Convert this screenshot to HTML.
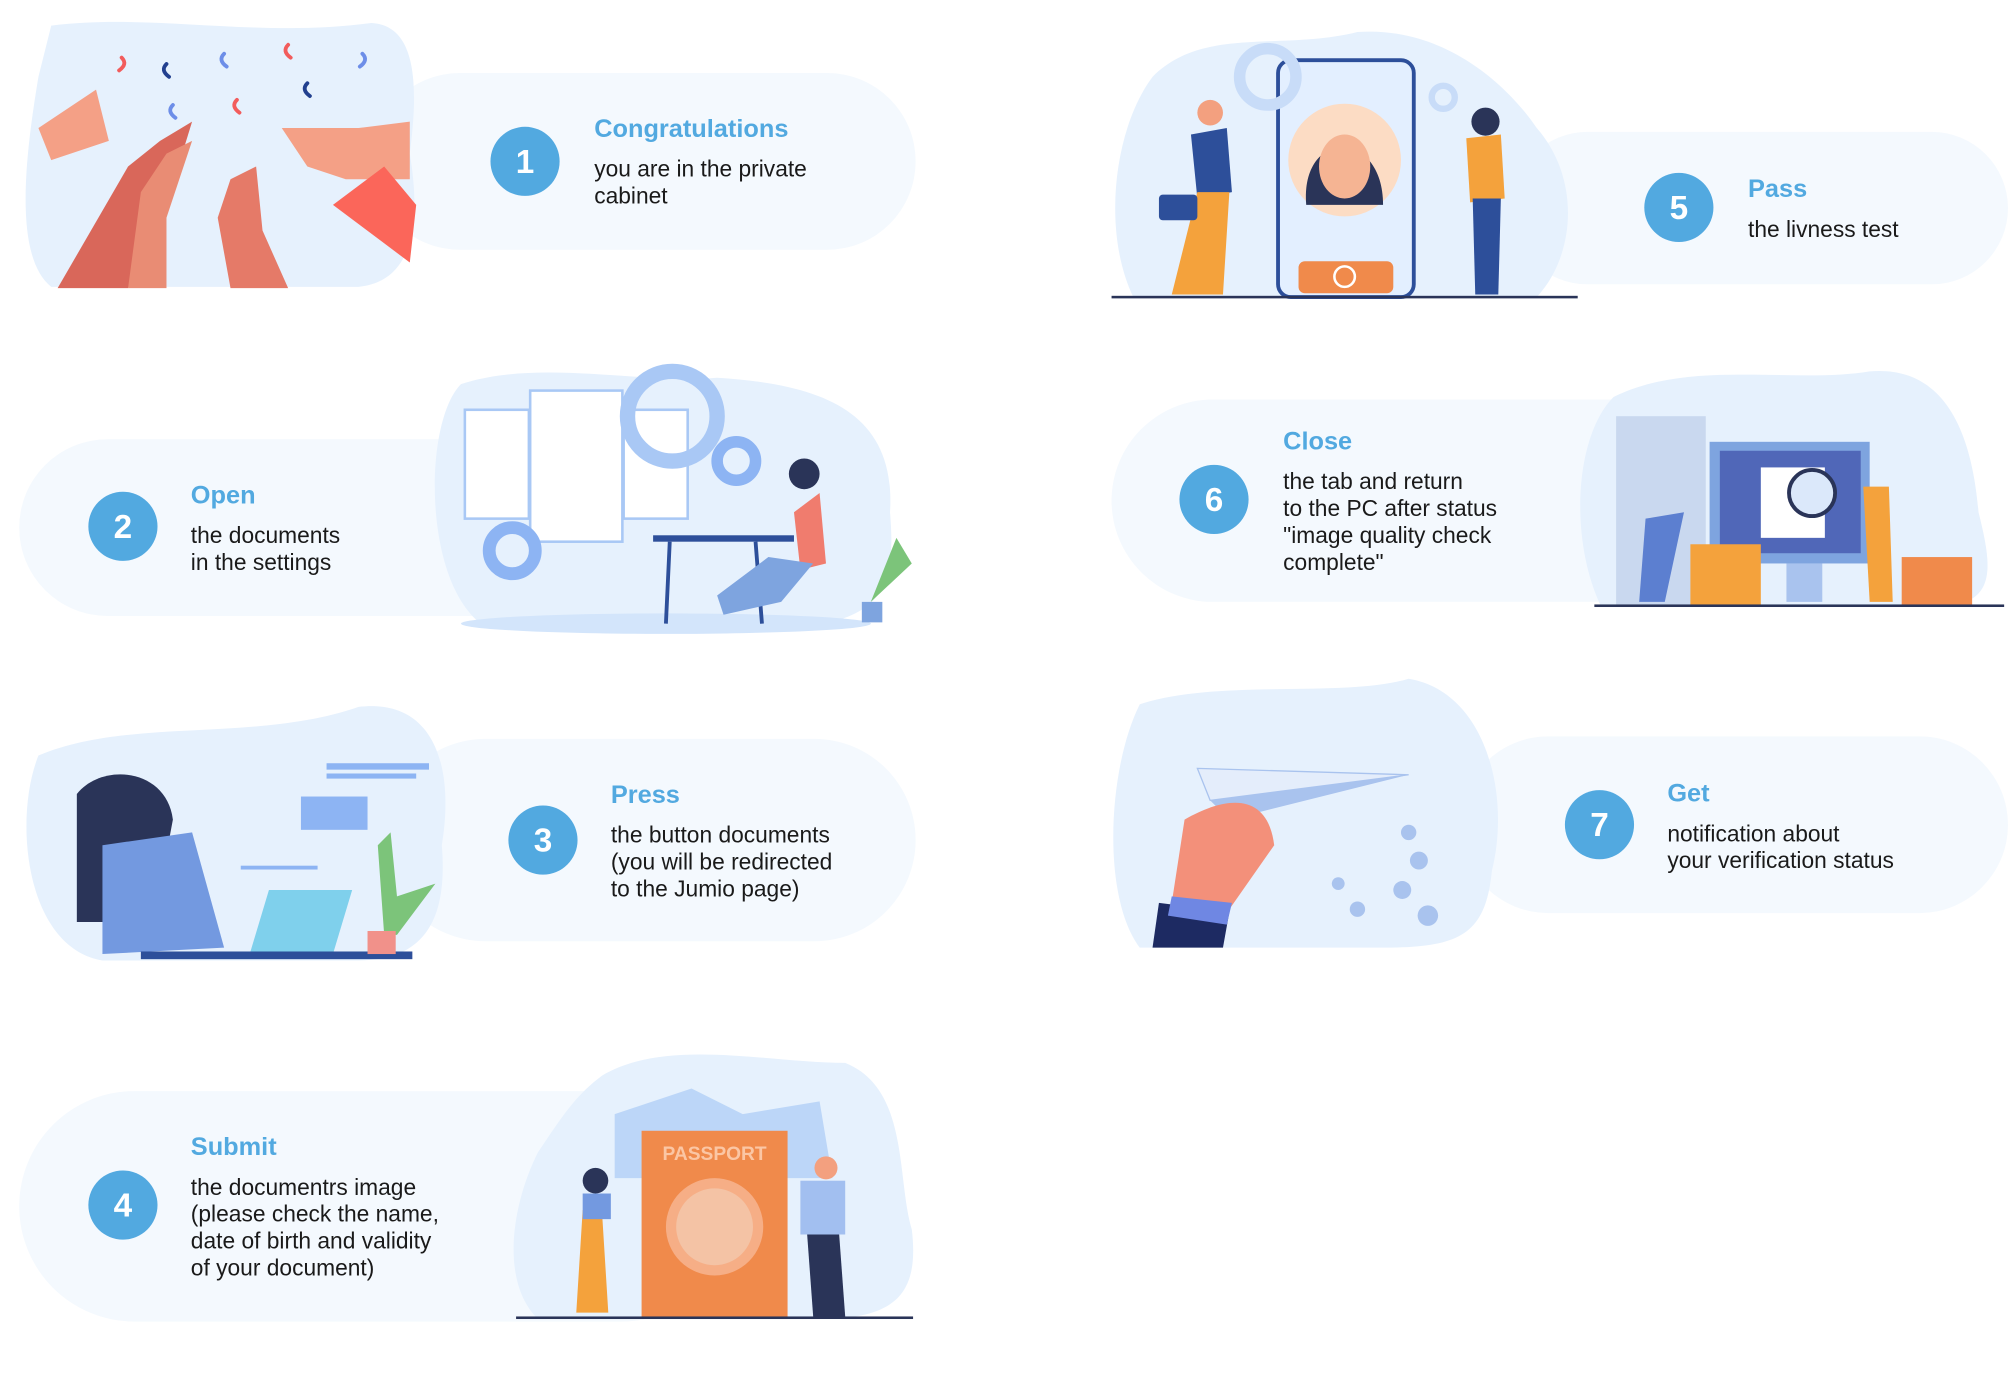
<!DOCTYPE html>
<html><head><meta charset="utf-8"><style>
html,body{margin:0;padding:0;background:#fff;width:2008px;height:1384px;overflow:hidden}
#w{position:absolute;left:0;top:0;width:1568px;height:1081px;transform:scale(1.2806);transform-origin:0 0;font-family:"Liberation Sans",sans-serif}
.p{position:absolute;background:#f4f9fe;border-radius:70px}
.c{position:absolute;width:54px;height:54px;border-radius:50%;background:#52a9e0;color:#fff;font-weight:bold;font-size:26px;line-height:54px;text-align:center}
.t{position:absolute;color:#52a9e0;font-weight:bold;font-size:19.8px}
.d{position:absolute;color:#1a1a1a;font-size:17.8px;line-height:21px}
svg{position:absolute;left:0;top:0}
</style></head><body><div id="w">
<div class="p" style="left:290px;top:57px;width:425px;height:138px"></div>
<div class="p" style="left:15px;top:343px;width:500px;height:138px"></div>
<div class="p" style="left:300px;top:577px;width:415px;height:158px;border-radius:80px"></div>
<div class="p" style="left:15px;top:852px;width:560px;height:180px;border-radius:90px"></div>
<div class="p" style="left:1180px;top:103px;width:388px;height:119px;border-radius:60px"></div>
<div class="p" style="left:868px;top:312px;width:480px;height:158px;border-radius:80px"></div>
<div class="p" style="left:1140px;top:575px;width:428px;height:138px"></div>
<svg width="1568" height="1081" viewBox="0 0 1568 1081">
<path d="M40,20 C120,10 200,30 290,18 C330,20 325,80 320,120 C330,180 320,220 280,224 L40,224 C10,200 20,120 30,60 Z" fill="#e6f1fd"/>
<path d="M360,300 C420,280 500,300 560,295 C640,300 700,320 695,400 C700,460 690,490 600,490 L380,490 C330,460 330,330 360,300 Z" fill="#e6f1fd"/>
<ellipse cx="520" cy="487" rx="160" ry="8" fill="#d3e5fb"/>
<path d="M30,590 C100,560 200,580 280,552 C340,545 355,600 345,660 C350,720 330,750 280,750 L80,750 C20,740 10,640 30,590 Z" fill="#e6f1fd"/>
<path d="M470,840 C520,810 600,830 660,830 C710,850 700,920 712,960 C718,1010 700,1030 640,1030 L420,1030 C390,1000 400,940 420,900 C440,870 450,855 470,840 Z" fill="#e6f1fd"/>
<path d="M900,60 C940,20 1000,40 1060,25 C1130,20 1180,70 1200,100 C1235,140 1230,200 1200,232 L885,232 C860,180 870,100 900,60 Z" fill="#e6f1fd"/>
<path d="M1260,310 C1320,280 1400,300 1460,290 C1520,285 1540,340 1545,400 C1555,440 1560,470 1520,473 L1250,473 C1225,420 1230,340 1260,310 Z" fill="#e6f1fd"/>
<path d="M890,550 C950,530 1050,545 1100,530 C1160,540 1180,620 1165,680 C1160,730 1140,740 1080,740 L890,740 C860,700 865,600 890,550 Z" fill="#e6f1fd"/>
<path d="M30,100 L75,70 L85,110 L40,125 Z" fill="#f4a086"/>
<path d="M45,225 L100,130 L125,110 L150,95 L130,160 L100,225 Z" fill="#d9675a"/>
<path d="M100,225 L110,150 L130,120 L150,110 L130,170 L130,225 Z" fill="#e98c74"/>
<path d="M180,225 L170,170 L180,140 L200,130 L205,180 L225,225 Z" fill="#e57a68"/>
<path d="M220,100 L280,100 L320,95 L320,140 L270,140 L240,130 Z" fill="#f4a086"/>
<path d="M260,160 L300,130 L325,160 L320,205 Z" fill="#fb665a"/>
<g fill="none" stroke-width="3" stroke-linecap="round"><path d="M95,45 q5,5 -2,10" stroke="#f25c5c"/><path d="M130,50 q-5,5 2,10" stroke="#22408f"/><path d="M175,42 q-5,5 2,10" stroke="#6d8ee8"/><path d="M225,35 q-5,5 2,10" stroke="#f25c5c"/><path d="M240,65 q-5,5 2,10" stroke="#22408f"/><path d="M283,42 q5,5 -2,10" stroke="#6d8ee8"/><path d="M185,78 q-5,5 2,10" stroke="#f25c5c"/><path d="M135,82 q-5,5 2,10" stroke="#6d8ee8"/></g>
<g fill="#fff" stroke="#a9c8f5" stroke-width="2"><rect x="363" y="320" width="50" height="85"/><rect x="414" y="305" width="72" height="118"/><rect x="487" y="320" width="50" height="85"/></g>
<circle cx="525" cy="325" r="35" fill="none" stroke="#a9c8f5" stroke-width="12"/>
<circle cx="575" cy="360" r="15" fill="none" stroke="#8db4f3" stroke-width="9"/>
<circle cx="400" cy="430" r="18" fill="none" stroke="#8db4f3" stroke-width="10"/>
<rect x="510" y="418" width="110" height="5" fill="#2d4f9a"/><path d="M523,423 L520,487 M590,423 L595,487" stroke="#2d4f9a" stroke-width="3"/>
<path d="M620,400 L640,385 L645,440 L625,445 Z" fill="#f07c6e"/><circle cx="628" cy="370" r="12" fill="#2a3458"/>
<path d="M560,465 L600,435 L635,440 L610,470 L565,480 Z" fill="#7ea4df"/>
<path d="M680,470 L700,420 L712,440 Z" fill="#7cc47a"/><rect x="673" y="470" width="16" height="16" fill="#7ea4df"/>
<path d="M60,620 C80,595 130,600 135,640 L120,720 L60,720 Z" fill="#2a3458"/>
<path d="M80,660 L150,650 L175,740 L80,745 Z" fill="#7399e0"/>
<path d="M210,695 L275,695 L260,745 L195,745 Z" fill="#7fd0ec"/><rect x="110" y="743" width="212" height="6" fill="#2d4f9a"/>
<path d="M300,730 L295,660 L305,650 L310,700 L340,690 L310,730 Z" fill="#7cc47a"/><rect x="287" y="727" width="22" height="18" fill="#f1918a"/>
<rect x="255" y="596" width="80" height="5" fill="#8db4f3"/><rect x="255" y="604" width="70" height="4" fill="#8db4f3"/><rect x="235" y="622" width="52" height="26" fill="#8db4f3"/><rect x="188" y="676" width="60" height="3" fill="#8db4f3"/>
<path d="M480,870 L540,850 L580,870 L640,860 L650,920 L480,920 Z" fill="#bcd6f8"/>
<rect x="501" y="883" width="114" height="147" fill="#f08a4b"/>
<text x="558" y="906" text-anchor="middle" font-size="15" font-weight="bold" fill="#fbc6a4" font-family="Liberation Sans,sans-serif">PASSPORT</text>
<circle cx="558" cy="958" r="38" fill="#f6ae86"/><circle cx="558" cy="958" r="30" fill="#f4c3a5"/>
<path d="M455,945 L470,945 L475,1025 L450,1025 Z" fill="#f4a23c"/><circle cx="465" cy="922" r="10" fill="#2a3458"/><rect x="455" y="932" width="22" height="20" fill="#7399e0"/>
<path d="M630,960 L655,960 L660,1028 L635,1028 Z" fill="#2a3458"/><rect x="625" y="922" width="35" height="42" fill="#a2bff0"/><circle cx="645" cy="912" r="9" fill="#f3a07f"/>
<rect x="403" y="1028" width="310" height="2" fill="#2a3458"/>
<rect x="998" y="47" width="106" height="185" rx="10" fill="#e3efff" stroke="#2d4f9a" stroke-width="3"/>
<circle cx="1050" cy="125" r="44" fill="#fcdcc4"/><path d="M1020,160 C1015,100 1080,100 1080,160 Z" fill="#2a3458"/><ellipse cx="1050" cy="130" rx="20" ry="25" fill="#f5b493"/>
<rect x="1014" y="204" width="74" height="25" rx="5" fill="#f08a4b"/><circle cx="1050" cy="216" r="8" fill="none" stroke="#fff" stroke-width="2"/>
<circle cx="990" cy="60" r="22" fill="none" stroke="#c8dcf8" stroke-width="9"/><circle cx="1127" cy="76" r="9" fill="none" stroke="#c8dcf8" stroke-width="5"/>
<path d="M930,105 L958,100 L962,150 L935,155 Z" fill="#2d4f9a"/><circle cx="945" cy="88" r="10" fill="#f3a07f"/><path d="M935,150 L960,150 L955,230 L915,230 Z" fill="#f4a23c"/><rect x="905" y="152" width="30" height="20" rx="3" fill="#2d4f9a"/>
<path d="M1145,108 L1172,105 L1175,155 L1148,158 Z" fill="#f4a23c"/><circle cx="1160" cy="95" r="11" fill="#2a3458"/><path d="M1150,155 L1172,155 L1170,230 L1152,230 Z" fill="#2d4f9a"/>
<rect x="868" y="231" width="364" height="2" fill="#2a3458"/>
<rect x="1262" y="325" width="70" height="148" fill="#c9d8ef"/>
<rect x="1335" y="345" width="125" height="95" fill="#7ea4df"/><rect x="1343" y="352" width="110" height="80" fill="#5067b8"/>
<rect x="1395" y="440" width="28" height="30" fill="#a9c3ee"/>
<rect x="1375" y="365" width="50" height="55" fill="#fff"/><circle cx="1415" cy="385" r="18" fill="#dbe8fa" stroke="#2a3458" stroke-width="3"/>
<rect x="1320" y="425" width="55" height="48" fill="#f4a23c"/><rect x="1485" y="435" width="55" height="38" fill="#f08a4b"/>
<path d="M1455,380 L1475,380 L1478,470 L1460,470 Z" fill="#f4a23c"/><path d="M1285,405 L1315,400 L1300,470 L1280,470 Z" fill="#5c7fd0"/>
<rect x="1245" y="472" width="320" height="2" fill="#2a3458"/>
<path d="M935,600 L1100,605 L945,625 Z" fill="#e4edfb" stroke="#a9c3ee"/><path d="M945,625 L1100,605 L960,640 Z" fill="#a9c3ee"/>
<path d="M925,640 C960,620 990,620 995,660 L960,710 L915,705 Z" fill="#f3907a"/>
<path d="M905,705 L960,712 L955,740 L900,740 Z" fill="#1d2a62"/><path d="M915,700 L962,705 L958,722 L912,715 Z" fill="#6f87e3"/>
<g fill="#a9c3ee"><circle cx="1100" cy="650" r="6"/><circle cx="1108" cy="672" r="7"/><circle cx="1095" cy="695" r="7"/><circle cx="1115" cy="715" r="8"/><circle cx="1045" cy="690" r="5"/><circle cx="1060" cy="710" r="6"/></g>
</svg>
<div class="c" style="left:383px;top:99px">1</div>
<div class="t" style="left:464px;top:90px">Congratulations</div>
<div class="d" style="left:464px;top:122px">you are in the private<br>cabinet</div>
<div class="c" style="left:69px;top:384px">2</div>
<div class="t" style="left:149px;top:376px">Open</div>
<div class="d" style="left:149px;top:408px">the documents<br>in the settings</div>
<div class="c" style="left:397px;top:629px">3</div>
<div class="t" style="left:477px;top:610px">Press</div>
<div class="d" style="left:477px;top:642px">the button documents<br>(you will be redirected<br>to the Jumio page)</div>
<div class="c" style="left:69px;top:914px">4</div>
<div class="t" style="left:149px;top:885px">Submit</div>
<div class="d" style="left:149px;top:917px">the documentrs image<br>(please check the name,<br>date of birth and validity<br>of your document)</div>
<div class="c" style="left:1284px;top:135px">5</div>
<div class="t" style="left:1365px;top:137px">Pass</div>
<div class="d" style="left:1365px;top:169px">the livness test</div>
<div class="c" style="left:921px;top:363px">6</div>
<div class="t" style="left:1002px;top:334px">Close</div>
<div class="d" style="left:1002px;top:366px">the tab and return<br>to the PC after status<br>"image quality check<br>complete"</div>
<div class="c" style="left:1222px;top:617px">7</div>
<div class="t" style="left:1302px;top:609px">Get</div>
<div class="d" style="left:1302px;top:641px">notification about<br>your verification status</div>
</div></body></html>
